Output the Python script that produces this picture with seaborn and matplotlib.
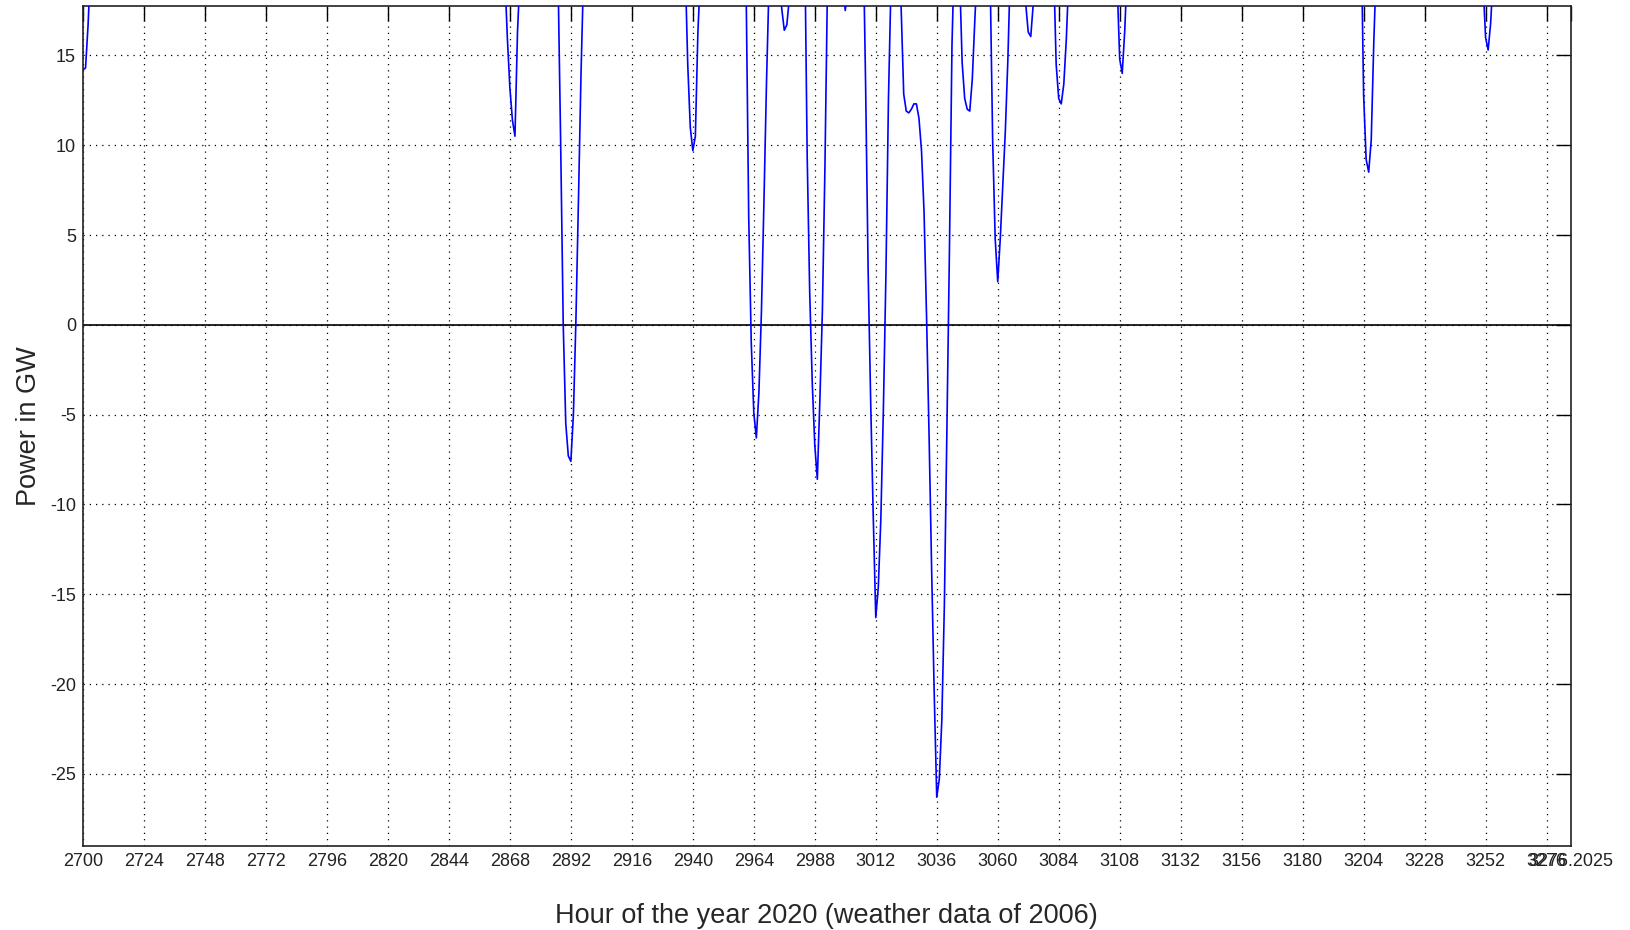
import numpy as np
import pandas as pd
import matplotlib
matplotlib.use("Agg")
import matplotlib.pyplot as plt
import seaborn as sns

# ---- data: visible stretches of the hourly series (values above the top are off-chart) ----
seg_start = [2700, 2866, 2887, 2937, 2961, 2974, 2984, 2999, 3007, 3021,
             3045, 3057, 3070, 3082, 3107, 3203, 3251]
seg_values = [
    [14.2, 14.3, 16.7, 20.0],
    [19.5, 16.0, 13.2, 11.4, 10.5, 16.3, 19.5],
    [19.0, 10.0, 0.0, -5.5, -7.3, -7.6, -5.0, 0.3, 7.0, 14.0, 19.5],
    [20.0, 14.5, 11.0, 9.7, 10.5, 16.3, 19.5],
    [18.5, 6.0, -1.0, -4.9, -6.3, -3.8, 0.7, 6.9, 13.5, 19.0],
    [19.5, 17.6, 16.4, 16.7, 18.2, 19.5],
    [22.0, 9.5, 1.8, -3.2, -6.7, -8.6, -4.2, 0.8, 8.8, 19.0],
    [19.0, 17.5, 19.0],
    [22.0, 13.4, 3.0, -4.3, -10.6, -16.3, -14.6, -10.8, -4.7, 2.8, 12.6, 19.0],
    [21.0, 17.6, 12.85, 11.9, 11.8, 12.0, 12.3, 12.3, 11.5, 9.7, 6.3, 0.4,
     -6.3, -13.7, -20.5, -26.3, -25.3, -22.0, -15.6, -5.8, 4.2, 15.6, 21.0],
    [19.5, 14.6, 12.6, 12.0, 11.9, 13.7, 17.0, 20.0],
    [19.5, 10.3, 4.8, 2.4, 4.8, 7.8, 10.8, 14.8, 20.0],
    [20.0, 17.9, 16.3, 16.05, 17.9, 20.0],
    [20.0, 14.5, 12.6, 12.3, 13.4, 15.9, 19.5],
    [19.0, 14.8, 14.0, 16.4, 20.0],
    [22.0, 12.8, 9.2, 8.5, 10.3, 15.7, 20.0],
    [19.0, 16.0, 15.3, 16.8, 19.5],
]
x_ticks = list(range(2700, 3277, 24)) + [3285.5]
x_tick_labels = [str(t) for t in range(2700, 3277, 24)] + ["3276.2025"]
y_ticks = [-25, -20, -15, -10, -5, 0, 5, 10, 15]

rows = []
for k, (s, vals) in enumerate(zip(seg_start, seg_values)):
    for i, v in enumerate(vals):
        rows.append({"hour": s + i, "power": v, "segment": k})
df = pd.DataFrame(rows)

sns.set_style("white")
plt.rcParams["font.family"] = ["Liberation Sans", "DejaVu Sans"]

fig = plt.figure(figsize=(16.31, 9.30), dpi=100)
ax = fig.add_axes([83 / 1631, 1 - 845.7 / 930, (1570.7 - 83) / 1631, (845.7 - 6) / 930])

sns.lineplot(data=df, x="hour", y="power", units="segment", estimator=None,
             color="#0000ff", lw=1.2, ax=ax, legend=False, zorder=3)
ax.axhline(0, color="black", lw=1.2, zorder=2)

ax.set_xlim(2700, 3285.5)
ax.set_ylim(-29.0, 17.75)
ax.set_xticks(x_ticks)
ax.set_xticklabels(x_tick_labels)
ax.set_yticks(y_ticks)
ax.set_yticklabels([str(t) for t in y_ticks])

ax.grid(True, color="black", linestyle=(0, (1, 4)), lw=0.9)
ax.set_axisbelow(True)
ax.tick_params(axis="both", direction="in", length=11, width=1.0, colors="black",
               labelsize=13, pad=5, top=True, right=True)
ax.tick_params(axis="x", labelcolor="#222222")
ax.tick_params(axis="y", labelcolor="#222222")
for sp in ax.spines.values():
    sp.set_visible(True)
    sp.set_color("#222222")
    sp.set_linewidth(1.2)

ax.set_xlabel("Hour of the year 2020 (weather data of 2006)", fontsize=19.5, labelpad=24)
ax.set_ylabel("Power in GW", fontsize=19.5, labelpad=6)

fig.savefig("out.png", dpi=100)
